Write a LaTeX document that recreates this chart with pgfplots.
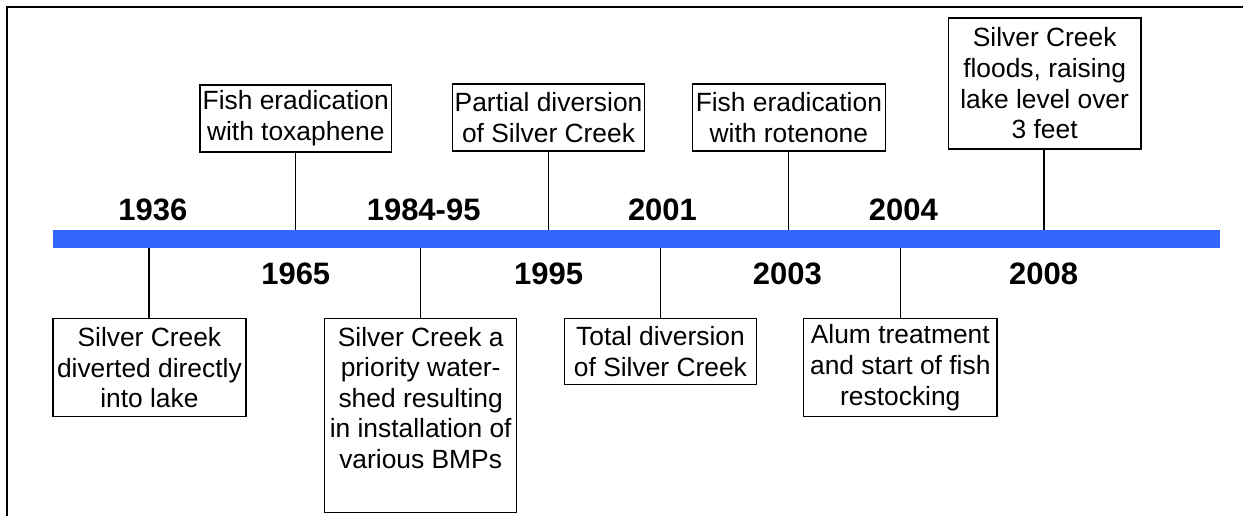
\documentclass[border=0pt]{standalone}
\usepackage{pgfplots}
\pgfplotsset{compat=1.18}
\usepackage{fontspec}
\setmainfont{Liberation Sans}
\definecolor{barblue}{RGB}{51,102,255}
\tikzset{
  box/.style={black,line width=0.75pt},
  conn/.style={black,line width=0.7pt},
  evt/.style={inner sep=0pt,align=center,font=\fontsize{13.2}{15.3}\selectfont},
  yr/.style={inner sep=0pt,font=\fontsize{15.5}{18}\selectfont\bfseries}}
\begin{document}
\begin{tikzpicture}
\begin{axis}[width=622pt,height=258pt,scale only axis,
  xmin=0,xmax=1244,ymin=0,ymax=516,hide axis,clip=false]
\addplot[draw=none,forget plot] coordinates {(0,0) (1244,516)};
% frame
\addplot[black,line width=1pt] coordinates {(7,0) (7,509) (1244,509)};
% timeline bar
\addplot[fill=barblue,draw=none] coordinates {(53,268) (1221,268) (1221,286) (53,286)} --cycle;
% connectors above the bar
\addplot[conn] coordinates {(296,286) (296,364)};
\addplot[conn] coordinates {(549,286) (549,365)};
\addplot[conn] coordinates {(789,286) (789,365)};
\addplot[conn] coordinates {(1045,286) (1045,367)};
% connectors below the bar
\addplot[conn] coordinates {(149,268) (149,197)};
\addplot[conn] coordinates {(421,268) (421,197)};
\addplot[conn] coordinates {(661,268) (661,197)};
\addplot[conn] coordinates {(901,268) (901,197)};
% boxes above
\addplot[box] coordinates {(200,364) (392,364) (392,431) (200,431)} --cycle;
\addplot[box] coordinates {(453,365) (645,365) (645,432) (453,432)} --cycle;
\addplot[box] coordinates {(693,365) (886,365) (886,432) (693,432)} --cycle;
\addplot[box] coordinates {(949,367) (1142,367) (1142,498) (949,498)} --cycle;
% boxes below
\addplot[box] coordinates {(53,99) (246,99) (246,197) (53,197)} --cycle;
\addplot[box] coordinates {(325,3) (517,3) (517,197) (325,197)} --cycle;
\addplot[box] coordinates {(565,131) (757,131) (757,197) (565,197)} --cycle;
\addplot[box] coordinates {(804,99) (998,99) (998,197) (804,197)} --cycle;
% event texts
\node[evt] at (axis cs:296,397.5) {Fish eradication\\with toxaphene};
\node[evt] at (axis cs:549,398.5) {Partial diversion\\of Silver Creek};
\node[evt] at (axis cs:789.5,398.5) {Fish eradication\\with rotenone};
\node[evt] at (axis cs:1045.5,432.5) {Silver Creek\\floods, raising\\lake level over\\3 feet};
\node[evt] at (axis cs:149.5,148) {Silver Creek\\diverted directly\\into lake};
\node[evt,anchor=north] at (axis cs:421,189) {Silver Creek a\\priority water-\\shed resulting\\in installation of\\various BMPs};
\node[evt] at (axis cs:661,164) {Total diversion\\of Silver Creek};
\node[evt] at (axis cs:901,148) {Alum treatment\\and start of fish\\restocking};
% years
\node[yr] at (axis cs:153,306) {1936};
\node[yr] at (axis cs:424,306) {1984-95};
\node[yr] at (axis cs:663,306) {2001};
\node[yr] at (axis cs:904,306) {2004};
\node[yr] at (axis cs:296,242) {1965};
\node[yr] at (axis cs:549,242) {1995};
\node[yr] at (axis cs:788,242) {2003};
\node[yr] at (axis cs:1044.5,242) {2008};
\end{axis}
\end{tikzpicture}
\end{document}
